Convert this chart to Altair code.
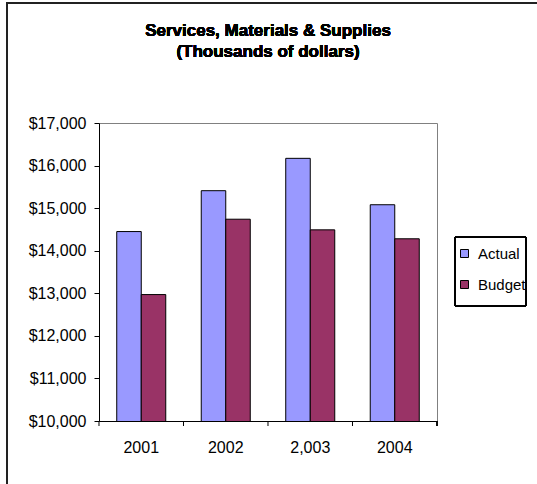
import altair as alt
import pandas as pd

years = ["2001", "2002", "2,003", "2004"]
actual = [14450, 15410, 16170, 15080]
budget = [12970, 14740, 14490, 14280]
series_names = ["Actual", "Budget"]
series_colors = ["#9999FF", "#993366"]
title_lines = ["Services, Materials & Supplies", "(Thousands of dollars)"]

rows = []
for y, a, b in zip(years, actual, budget):
    rows.append({"year": y, "series": "Actual", "value": a})
    rows.append({"year": y, "series": "Budget", "value": b})
df = pd.DataFrame(rows)
ticks_df = pd.DataFrame({"year": years})

FONT = "Liberation Sans"
X_SCALE = alt.Scale(paddingInner=0.42, paddingOuter=0.21)

bars = alt.Chart(df).mark_bar(stroke="black", strokeWidth=1, clip=True).encode(
    x=alt.X(
        "year:N",
        sort=years,
        title=None,
        scale=X_SCALE,
        axis=alt.Axis(
            labelAngle=0,
            labelFontSize=16,
            labelColor="black",
            labelPadding=13,
            tickSize=5,
            tickOpacity=0,
            domainColor="black",
            grid=False,
        ),
    ),
    xOffset=alt.XOffset("series:N", sort=series_names,
                        scale=alt.Scale(paddingInner=0, paddingOuter=0)),
    y=alt.Y(
        "value:Q",
        title=None,
        scale=alt.Scale(domain=[10000, 17000], nice=False, zero=False),
        axis=alt.Axis(
            values=list(range(10000, 17001, 1000)),
            format="$,.0f",
            labelFontSize=16,
            labelColor="black",
            labelPadding=8,
            tickSize=5,
            tickColor="black",
            domainColor="black",
            grid=False,
        ),
    ),
    color=alt.Color(
        "series:N",
        sort=series_names,
        scale=alt.Scale(domain=series_names, range=series_colors),
        legend=alt.Legend(
            title=None,
            orient="none",
            legendX=358,
            legendY=123,
            symbolType="square",
            symbolSize=64,
            symbolStrokeColor="black",
            symbolStrokeWidth=1,
            labelFontSize=15,
            labelColor="black",
            labelOffset=6,
            rowPadding=15,
            padding=0,
        ),
    ),
)

# category-boundary ticks (Excel style), half the inner padding left of each band
boundary_ticks = alt.Chart(ticks_df).mark_rule(color="black", strokeWidth=1, xOffset=-17.75).encode(
    x=alt.X("year:N", sort=years, bandPosition=0),
    y=alt.value(298),
    y2=alt.value(303),
)
end_tick = alt.Chart(ticks_df).mark_rule(color="black", strokeWidth=1).encode(
    x=alt.value(338), y=alt.value(298), y2=alt.value(303)
)

title_text = alt.Chart(df).mark_text(
    font=FONT, fontSize=17, fontWeight="bold", color="black",
    align="center", baseline="alphabetic", lineHeight=21,
).encode(
    x=alt.value(169), y=alt.value(-87), text=alt.value(title_lines)
)

legend_frame = alt.Chart(df).mark_rect(fill="transparent", stroke="black", strokeWidth=1).encode(
    x=alt.value(356), x2=alt.value(427), y=alt.value(114), y2=alt.value(183)
)

frame_left = alt.Chart(df).mark_rule(color="#222222", strokeWidth=2).encode(
    x=alt.value(-92), y=alt.value(-121), y2=alt.value(365)
)
frame_top = alt.Chart(df).mark_rule(color="#222222", strokeWidth=1.5).encode(
    x=alt.value(-93), x2=alt.value(445), y=alt.value(-120)
)

chart = alt.layer(
    bars, boundary_ticks, end_tick, title_text, legend_frame, frame_left, frame_top
).properties(
    width=338,
    height=298,
    autosize=alt.AutoSizeParams(type="none"),
    padding={"left": 99, "top": 123, "right": 100, "bottom": 63},
).configure(
    font=FONT,
    background="white",
).configure_view(
    stroke="#808080",
    strokeWidth=1,
)

chart.save("out.html", embed_options={"renderer": "svg", "actions": False})
